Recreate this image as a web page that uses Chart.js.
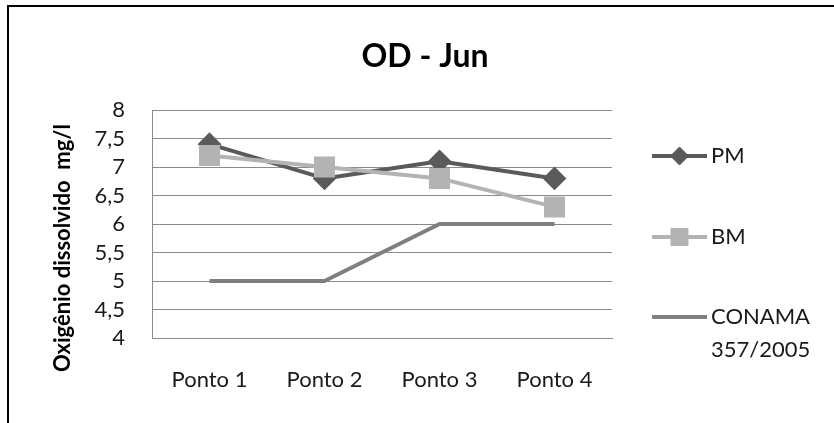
<!DOCTYPE html>
<html>
<head>
<meta charset="utf-8">
<script src="https://cdn.jsdelivr.net/npm/chart.js@4.4.1/dist/chart.umd.min.js"></script>
<style>
  html, body { margin: 0; padding: 0; background: #ffffff; }
  #wrap { position: relative; width: 834px; height: 423px; }
</style>
</head>
<body>
<div id="wrap"><canvas id="c" width="834" height="423"></canvas></div>
<script>
// Pontos de coleta e oxigênio dissolvido (mg/l) em junho
const categories = ['Ponto 1', 'Ponto 2', 'Ponto 3', 'Ponto 4'];
const pmValues = [7.4, 6.8, 7.1, 6.8];
const bmValues = [7.2, 7.0, 6.8, 6.3];
const conamaValues = [5, 5, 6, 6];
const seriesLabels = ['PM', 'BM', ['CONAMA', '357/2005']];
const yTickValues = [4, 4.5, 5, 5.5, 6, 6.5, 7, 7.5, 8];

const FONT = 'Lato, "Open Sans", sans-serif';
const PM_COLOR = '#5a5a5a';
const BM_COLOR = '#b3b3b3';
const CONAMA_COLOR = '#7f7f7f';
const GRID_COLOR = '#8a8a8a';

// frame, title, rotated axis title and legend
const decorations = {
  id: 'decorations',
  beforeDraw(chart) {
    const ctx = chart.ctx;
    ctx.save();
    ctx.fillStyle = '#ffffff';
    ctx.fillRect(0, 0, chart.width, chart.height);
    ctx.fillStyle = '#000000';
    ctx.fillRect(7, 5, chart.width - 7, 2);
    ctx.fillRect(7, 5, 2, chart.height - 5);
    ctx.restore();
  },
  afterDraw(chart) {
    const ctx = chart.ctx;
    ctx.save();
    // title
    ctx.fillStyle = '#000000';
    ctx.font = 'bold 32px ' + FONT;
    ctx.textAlign = 'center';
    ctx.textBaseline = 'alphabetic';
    ctx.fillText('OD - Jun', 425, 67);

    // y-axis title
    ctx.save();
    ctx.translate(70, 248);
    ctx.rotate(-Math.PI / 2);
    ctx.font = 'bold 22px ' + FONT;
    ctx.fillStyle = '#000000';
    ctx.textAlign = 'center';
    ctx.textBaseline = 'alphabetic';
    ctx.fillText('Oxigênio dissolvido  mg/l', 0, 0);
    ctx.restore();

    // legend
    const rows = [156, 237, 317];
    chart.data.datasets.forEach((ds, i) => {
      const y = rows[i];
      ctx.strokeStyle = ds.borderColor;
      ctx.lineWidth = 4;
      ctx.beginPath();
      ctx.moveTo(652, y);
      ctx.lineTo(707, y);
      ctx.stroke();
      if (ds.pointStyle && ds.pointRadius > 0) {
        ctx.fillStyle = ds.pointBackgroundColor;
        ctx.strokeStyle = ds.pointBorderColor;
        ctx.lineWidth = 1;
        Chart.helpers.drawPoint(ctx, {
          pointStyle: ds.pointStyle,
          radius: ds.pointRadius,
          borderWidth: 1,
          rotation: 0
        }, 679.5, y);
      }
      ctx.fillStyle = '#1a1a1a';
      ctx.font = '22px ' + FONT;
      ctx.textAlign = 'left';
      ctx.textBaseline = 'middle';
      const lines = Array.isArray(ds.label) ? ds.label : [ds.label];
      lines.forEach((t, k) => ctx.fillText(t, 711, y + k * 33));
    });
    ctx.restore();
  }
};

new Chart(document.getElementById('c'), {
  type: 'line',
  data: {
    labels: categories,
    datasets: [
      {
        label: seriesLabels[0],
        data: pmValues,
        borderColor: PM_COLOR,
        backgroundColor: PM_COLOR,
        pointBackgroundColor: PM_COLOR,
        pointBorderColor: PM_COLOR,
        pointStyle: 'rectRot',
        pointRadius: 9,
        borderWidth: 4,
        order: 2
      },
      {
        label: seriesLabels[1],
        data: bmValues,
        borderColor: BM_COLOR,
        backgroundColor: BM_COLOR,
        pointBackgroundColor: BM_COLOR,
        pointBorderColor: BM_COLOR,
        pointStyle: 'rect',
        pointRadius: 12,
        borderWidth: 4,
        order: 1
      },
      {
        label: seriesLabels[2],
        data: conamaValues,
        borderColor: CONAMA_COLOR,
        backgroundColor: CONAMA_COLOR,
        pointRadius: 0,
        pointStyle: false,
        borderWidth: 4,
        order: 0
      }
    ]
  },
  options: {
    responsive: false,
    animation: false,
    events: [],
    layout: { padding: { top: 110, right: 222, bottom: 0, left: 0 } },
    plugins: {
      legend: { display: false },
      title: { display: false },
      tooltip: { enabled: false }
    },
    elements: { line: { tension: 0, borderCapStyle: 'butt', borderJoinStyle: 'round' } },
    scales: {
      x: {
        offset: true,
        grid: { display: false, drawTicks: false },
        border: { display: true, color: GRID_COLOR, width: 1 },
        ticks: { padding: 29, color: '#1a1a1a', font: { family: FONT, size: 22 } },
        afterFit(scale) { scale.height = 85; }
      },
      y: {
        min: 4,
        max: 8,
        afterBuildTicks(scale) { scale.ticks = yTickValues.map(v => ({ value: v })); },
        grid: { color: GRID_COLOR, lineWidth: 1, drawTicks: false },
        border: { display: true, color: GRID_COLOR, width: 1 },
        ticks: {
          autoSkip: false,
          padding: 27,
          color: '#1a1a1a',
          font: { family: FONT, size: 22 },
          callback: v => String(v).replace('.', ',')
        },
        afterFit(scale) { scale.width = 152; }
      }
    }
  },
  plugins: [decorations]
});
</script>
</body>
</html>
